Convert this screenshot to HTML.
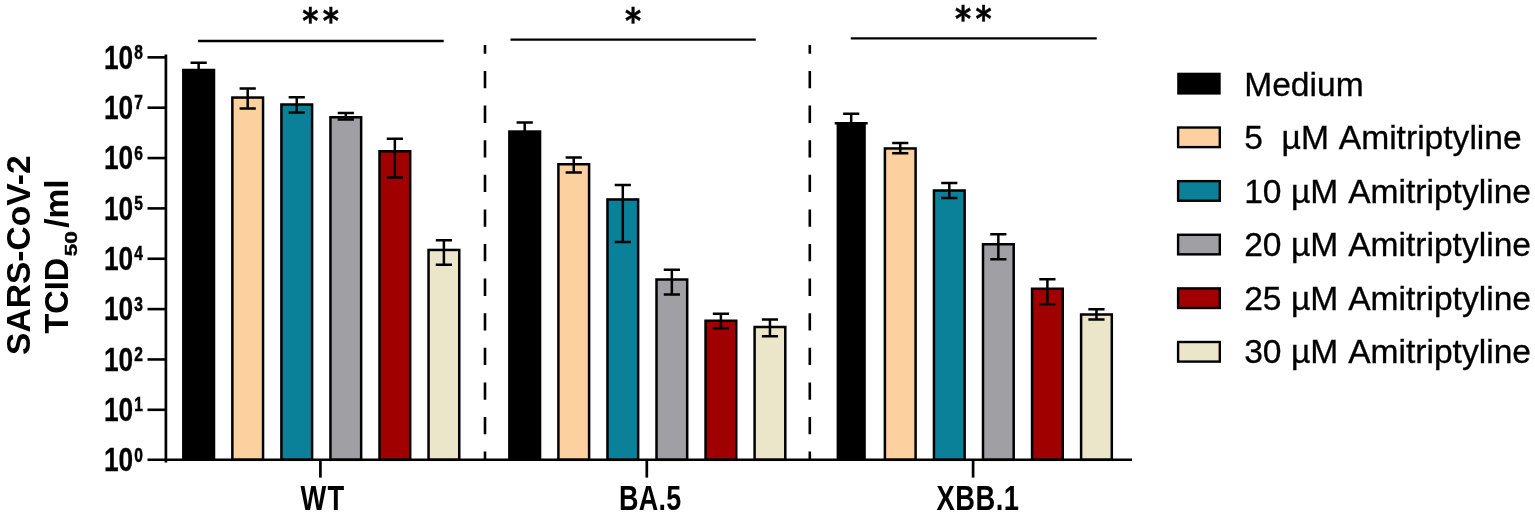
<!DOCTYPE html>
<html><head><meta charset="utf-8"><title>SARS-CoV-2 TCID50/ml</title>
<style>html,body{margin:0;padding:0;background:#fff}svg{display:block}</style></head>
<body>
<svg width="1535" height="516" viewBox="0 0 1535 516">
<rect width="1535" height="516" fill="#fff"/>
<line x1="485.0" y1="45" x2="485.0" y2="459.8" stroke="#000" stroke-width="2.6" stroke-dasharray="17.3 17.3" stroke-dashoffset="8.6"/>
<line x1="809.8" y1="45" x2="809.8" y2="459.8" stroke="#000" stroke-width="2.6" stroke-dasharray="17.3 17.3" stroke-dashoffset="8.6"/>
<rect x="182.05" y="68.75" width="33.2" height="391.05" fill="#000"/>
<path d="M190.55 62.70H206.75M198.65 62.70V70.75" stroke="#000" stroke-width="2.5" fill="none"/>
<rect x="232.35" y="97.55" width="30.70" height="362.25" fill="#FDD0A0" stroke="#000" stroke-width="2.5"/>
<path d="M239.60 88.40H255.80M247.70 88.40V108.40M239.60 108.40H255.80" stroke="#000" stroke-width="2.5" fill="none"/>
<rect x="281.40" y="104.50" width="30.70" height="355.30" fill="#0A8099" stroke="#000" stroke-width="2.5"/>
<path d="M288.65 97.30H304.85M296.75 97.30V112.50M288.65 112.50H304.85" stroke="#000" stroke-width="2.5" fill="none"/>
<rect x="330.45" y="117.25" width="30.70" height="342.55" fill="#A0A0A4" stroke="#000" stroke-width="2.5"/>
<path d="M337.70 113.00H353.90M345.80 113.00V119.40M337.70 119.40H353.90" stroke="#000" stroke-width="2.5" fill="none"/>
<rect x="379.50" y="151.25" width="30.70" height="308.55" fill="#A00000" stroke="#000" stroke-width="2.5"/>
<path d="M386.75 138.75H402.95M394.85 138.75V177.50M386.75 177.50H402.95" stroke="#000" stroke-width="2.5" fill="none"/>
<rect x="428.55" y="249.95" width="30.70" height="209.85" fill="#EBE5C9" stroke="#000" stroke-width="2.5"/>
<path d="M435.80 240.30H452.00M443.90 240.30V264.70M435.80 264.70H452.00" stroke="#000" stroke-width="2.5" fill="none"/>
<rect x="508.10" y="130.30" width="33.2" height="329.50" fill="#000"/>
<path d="M516.60 122.50H532.80M524.70 122.50V132.30" stroke="#000" stroke-width="2.5" fill="none"/>
<rect x="558.40" y="164.25" width="30.70" height="295.55" fill="#FDD0A0" stroke="#000" stroke-width="2.5"/>
<path d="M565.65 157.50H581.85M573.75 157.50V172.50M565.65 172.50H581.85" stroke="#000" stroke-width="2.5" fill="none"/>
<rect x="607.45" y="199.45" width="30.70" height="260.35" fill="#0A8099" stroke="#000" stroke-width="2.5"/>
<path d="M614.70 185.00H630.90M622.80 185.00V242.00M614.70 242.00H630.90" stroke="#000" stroke-width="2.5" fill="none"/>
<rect x="656.50" y="279.50" width="30.70" height="180.30" fill="#A0A0A4" stroke="#000" stroke-width="2.5"/>
<path d="M663.75 269.70H679.95M671.85 269.70V294.40M663.75 294.40H679.95" stroke="#000" stroke-width="2.5" fill="none"/>
<rect x="705.55" y="320.75" width="30.70" height="139.05" fill="#A00000" stroke="#000" stroke-width="2.5"/>
<path d="M712.80 313.75H729.00M720.90 313.75V328.25M712.80 328.25H729.00" stroke="#000" stroke-width="2.5" fill="none"/>
<rect x="754.60" y="327.00" width="30.70" height="132.80" fill="#EBE5C9" stroke="#000" stroke-width="2.5"/>
<path d="M761.85 319.50H778.05M769.95 319.50V336.25M761.85 336.25H778.05" stroke="#000" stroke-width="2.5" fill="none"/>
<rect x="836.60" y="122.00" width="29.2" height="337.80" fill="#000"/>
<line x1="834.70" x2="867.70" y1="123.25" y2="123.25" stroke="#000" stroke-width="2.6"/>
<path d="M843.10 113.75H859.30M851.20 113.75V124.00" stroke="#000" stroke-width="2.5" fill="none"/>
<rect x="884.90" y="148.45" width="30.70" height="311.35" fill="#FDD0A0" stroke="#000" stroke-width="2.5"/>
<path d="M892.15 143.00H908.35M900.25 143.00V153.25M892.15 153.25H908.35" stroke="#000" stroke-width="2.5" fill="none"/>
<rect x="933.95" y="190.50" width="30.70" height="269.30" fill="#0A8099" stroke="#000" stroke-width="2.5"/>
<path d="M941.20 183.00H957.40M949.30 183.00V198.00M941.20 198.00H957.40" stroke="#000" stroke-width="2.5" fill="none"/>
<rect x="983.00" y="244.25" width="30.70" height="215.55" fill="#A0A0A4" stroke="#000" stroke-width="2.5"/>
<path d="M990.25 234.25H1006.45M998.35 234.25V259.25M990.25 259.25H1006.45" stroke="#000" stroke-width="2.5" fill="none"/>
<rect x="1032.05" y="288.75" width="30.70" height="171.05" fill="#A00000" stroke="#000" stroke-width="2.5"/>
<path d="M1039.30 279.25H1055.50M1047.40 279.25V304.25M1039.30 304.25H1055.50" stroke="#000" stroke-width="2.5" fill="none"/>
<rect x="1081.10" y="314.50" width="30.70" height="145.30" fill="#EBE5C9" stroke="#000" stroke-width="2.5"/>
<path d="M1088.35 309.25H1104.55M1096.45 309.25V319.50M1088.35 319.50H1104.55" stroke="#000" stroke-width="2.5" fill="none"/>
<line x1="165.9" y1="54.5" x2="165.9" y2="462.5" stroke="#000" stroke-width="2.7"/>
<line x1="147.5" y1="459.8" x2="1132" y2="459.8" stroke="#000" stroke-width="2.5"/>
<line x1="147.5" y1="409.80" x2="165.9" y2="409.80" stroke="#000" stroke-width="2.6"/>
<line x1="147.5" y1="359.45" x2="165.9" y2="359.45" stroke="#000" stroke-width="2.6"/>
<line x1="147.5" y1="309.10" x2="165.9" y2="309.10" stroke="#000" stroke-width="2.6"/>
<line x1="147.5" y1="258.75" x2="165.9" y2="258.75" stroke="#000" stroke-width="2.6"/>
<line x1="147.5" y1="208.40" x2="165.9" y2="208.40" stroke="#000" stroke-width="2.6"/>
<line x1="147.5" y1="158.05" x2="165.9" y2="158.05" stroke="#000" stroke-width="2.6"/>
<line x1="147.5" y1="107.70" x2="165.9" y2="107.70" stroke="#000" stroke-width="2.6"/>
<line x1="147.5" y1="57.35" x2="165.9" y2="57.35" stroke="#000" stroke-width="2.6"/>
<line x1="320.4" y1="459.8" x2="320.4" y2="477.6" stroke="#000" stroke-width="2.7"/>
<line x1="646.8" y1="459.8" x2="646.8" y2="477.6" stroke="#000" stroke-width="2.7"/>
<line x1="973.1" y1="459.8" x2="973.1" y2="477.6" stroke="#000" stroke-width="2.7"/>
<line x1="198" y1="41" x2="443.75" y2="41" stroke="#000" stroke-width="2.4"/>
<line x1="510.5" y1="39.6" x2="755.75" y2="39.6" stroke="#000" stroke-width="2.4"/>
<line x1="850.75" y1="38.4" x2="1096.75" y2="38.4" stroke="#000" stroke-width="2.4"/>
<text transform="translate(302.3 33.2) scale(0.87 1)" font-family="DejaVu Sans, sans-serif" font-weight="700" font-size="35.5" letter-spacing="4.9" stroke="#000" stroke-width="0.4">**</text>
<text transform="translate(625.0 32.6) scale(0.87 1)" font-family="DejaVu Sans, sans-serif" font-weight="700" font-size="35.5" letter-spacing="4.9" stroke="#000" stroke-width="0.4">*</text>
<text transform="translate(955.1 31.0) scale(0.87 1)" font-family="DejaVu Sans, sans-serif" font-weight="700" font-size="35.5" letter-spacing="4.9" stroke="#000" stroke-width="0.4">**</text>
<text transform="translate(104.0 471.30) scale(0.785 1)" font-family="Liberation Sans, sans-serif" font-weight="700" font-size="33.5" stroke="#000" stroke-width="0.3">10<tspan font-size="19.8" dx="1.4" dy="-9.5" stroke-width="0.5">0</tspan></text>
<text transform="translate(104.0 420.95) scale(0.785 1)" font-family="Liberation Sans, sans-serif" font-weight="700" font-size="33.5" stroke="#000" stroke-width="0.3">10<tspan font-size="19.8" dx="1.4" dy="-9.5" stroke-width="0.5">1</tspan></text>
<text transform="translate(104.0 370.60) scale(0.785 1)" font-family="Liberation Sans, sans-serif" font-weight="700" font-size="33.5" stroke="#000" stroke-width="0.3">10<tspan font-size="19.8" dx="1.4" dy="-9.5" stroke-width="0.5">2</tspan></text>
<text transform="translate(104.0 320.25) scale(0.785 1)" font-family="Liberation Sans, sans-serif" font-weight="700" font-size="33.5" stroke="#000" stroke-width="0.3">10<tspan font-size="19.8" dx="1.4" dy="-9.5" stroke-width="0.5">3</tspan></text>
<text transform="translate(104.0 269.90) scale(0.785 1)" font-family="Liberation Sans, sans-serif" font-weight="700" font-size="33.5" stroke="#000" stroke-width="0.3">10<tspan font-size="19.8" dx="1.4" dy="-9.5" stroke-width="0.5">4</tspan></text>
<text transform="translate(104.0 219.55) scale(0.785 1)" font-family="Liberation Sans, sans-serif" font-weight="700" font-size="33.5" stroke="#000" stroke-width="0.3">10<tspan font-size="19.8" dx="1.4" dy="-9.5" stroke-width="0.5">5</tspan></text>
<text transform="translate(104.0 169.20) scale(0.785 1)" font-family="Liberation Sans, sans-serif" font-weight="700" font-size="33.5" stroke="#000" stroke-width="0.3">10<tspan font-size="19.8" dx="1.4" dy="-9.5" stroke-width="0.5">6</tspan></text>
<text transform="translate(104.0 118.85) scale(0.785 1)" font-family="Liberation Sans, sans-serif" font-weight="700" font-size="33.5" stroke="#000" stroke-width="0.3">10<tspan font-size="19.8" dx="1.4" dy="-9.5" stroke-width="0.5">7</tspan></text>
<text transform="translate(104.0 68.50) scale(0.785 1)" font-family="Liberation Sans, sans-serif" font-weight="700" font-size="33.5" stroke="#000" stroke-width="0.3">10<tspan font-size="19.8" dx="1.4" dy="-9.5" stroke-width="0.5">8</tspan></text>
<text transform="translate(300.6 510.1) scale(0.785 1)" font-family="Liberation Sans, sans-serif" font-weight="700" font-size="34.8" letter-spacing="1.5">WT</text>
<text transform="translate(618.9 510.1) scale(0.775 1)" font-family="Liberation Sans, sans-serif" font-weight="700" font-size="34.8" letter-spacing="0.4">BA.5</text>
<text transform="translate(936.6 510.1) scale(0.785 1)" font-family="Liberation Sans, sans-serif" font-weight="700" font-size="34.8" letter-spacing="0.6">XBB.1</text>
<text transform="translate(29.8 354.9) rotate(-90)" font-family="Liberation Sans, sans-serif" font-weight="700" font-size="32.5" textLength="199.5" lengthAdjust="spacingAndGlyphs">SARS-CoV-2</text>
<text transform="translate(67.9 333.6) rotate(-90)" font-family="Liberation Sans, sans-serif" font-weight="700" font-size="32.5">TCID<tspan font-size="16.5" dx="1.5" dy="9.4" textLength="25.1" lengthAdjust="spacingAndGlyphs" stroke="#000" stroke-width="0.4">50</tspan><tspan dx="3.4" dy="-9.4" textLength="48.4" lengthAdjust="spacingAndGlyphs">/ml</tspan></text>
<rect x="1177.2" y="72.70" width="43.5" height="21.9" fill="#000"/>
<text transform="translate(1244.2 95.55) scale(1.04 1)" font-family="Liberation Sans, sans-serif" font-size="32.3" stroke="#000" stroke-width="0.3" xml:space="preserve">Medium</text>
<rect x="1178.10" y="127.52" width="41.70" height="19.60" fill="#FDD0A0" stroke="#000" stroke-width="2.4"/>
<text transform="translate(1244.2 149.10) scale(1.04 1)" font-family="Liberation Sans, sans-serif" font-size="32.3" stroke="#000" stroke-width="0.3" xml:space="preserve">5  µM <tspan dx="0.6">Amitriptyline</tspan></text>
<rect x="1178.10" y="181.14" width="41.70" height="19.60" fill="#0A8099" stroke="#000" stroke-width="2.4"/>
<text transform="translate(1244.2 202.65) scale(1.04 1)" font-family="Liberation Sans, sans-serif" font-size="32.3" stroke="#000" stroke-width="0.3" xml:space="preserve">10 µM <tspan dx="0.6">Amitriptyline</tspan></text>
<rect x="1178.10" y="234.76" width="41.70" height="19.60" fill="#A0A0A4" stroke="#000" stroke-width="2.4"/>
<text transform="translate(1244.2 256.20) scale(1.04 1)" font-family="Liberation Sans, sans-serif" font-size="32.3" stroke="#000" stroke-width="0.3" xml:space="preserve">20 µM <tspan dx="0.6">Amitriptyline</tspan></text>
<rect x="1178.10" y="288.38" width="41.70" height="19.60" fill="#A00000" stroke="#000" stroke-width="2.4"/>
<text transform="translate(1244.2 309.75) scale(1.04 1)" font-family="Liberation Sans, sans-serif" font-size="32.3" stroke="#000" stroke-width="0.3" xml:space="preserve">25 µM <tspan dx="0.6">Amitriptyline</tspan></text>
<rect x="1178.10" y="342.00" width="41.70" height="19.60" fill="#EBE5C9" stroke="#000" stroke-width="2.4"/>
<text transform="translate(1244.2 363.30) scale(1.04 1)" font-family="Liberation Sans, sans-serif" font-size="32.3" stroke="#000" stroke-width="0.3" xml:space="preserve">30 µM <tspan dx="0.6">Amitriptyline</tspan></text>
</svg>
</body></html>
